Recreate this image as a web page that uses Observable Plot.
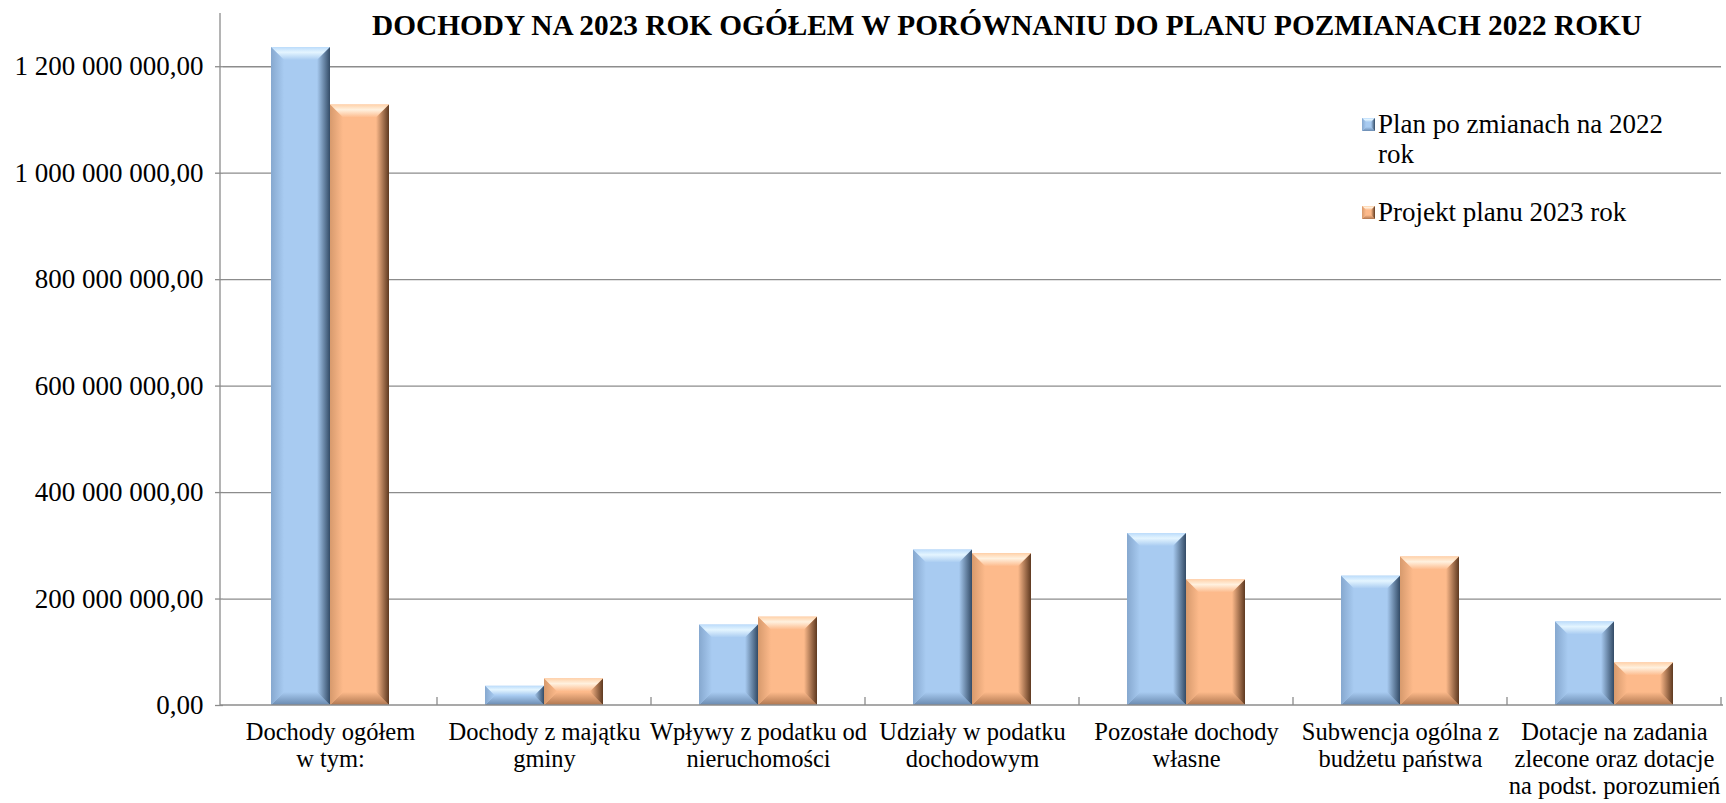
<!DOCTYPE html>
<html>
<head>
<meta charset="utf-8">
<script src="https://cdn.jsdelivr.net/npm/d3@7"></script>
<script src="https://cdn.jsdelivr.net/npm/@observablehq/plot@0.6"></script>
<style>
  html, body { margin: 0; padding: 0; background: #fff; }
  #chart { position: relative; width: 1726px; height: 803px; }
  #chart svg, #chart svg text { font-family: "Liberation Serif", "Times New Roman", serif !important; }
</style>
</head>
<body>
<div id="chart"></div>
<script>
// ---- data ----
const categories = [
  "Dochody ogółem\nw tym:",
  "Dochody z majątku\ngminy",
  "Wpływy z podatku od\nnieruchomości",
  "Udziały w podatku\ndochodowym",
  "Pozostałe dochody\nwłasne",
  "Subwencja ogólna z\nbudżetu państwa",
  "Dotacje na zadania\nzlecone oraz dotacje\nna podst. porozumień"
];
const series = ["Plan po zmianach na 2022 rok", "Projekt planu 2023 rok"];
const legendLines = [["Plan po zmianach na 2022", "rok"], ["Projekt planu 2023 rok"]];
const plan2022 = [1236e6, 36e6, 151e6, 292e6, 323e6, 243e6, 157e6];
const projekt2023 = [1128e6, 50e6, 166e6, 285e6, 236e6, 279e6, 80e6];
const yTicks = [0, 2e8, 4e8, 6e8, 8e8, 1e9, 1.2e9];
const title = "DOCHODY NA 2023 ROK OGÓŁEM W PORÓWNANIU DO PLANU POZMIANACH 2022 ROKU";
const colors = ["#a8cbf1", "#fdba8b"];

const data = categories.flatMap((c, i) => [
  {cat: c, series: series[0], value: plan2022[i]},
  {cat: c, series: series[1], value: projekt2023[i]}
]);

const locale = d3.formatLocale({decimal: ",", thousands: " ", grouping: [3], currency: ["", ""]});
const fmt = locale.format(",.2f");
const FONT = "Liberation Serif";

const plot = Plot.plot({
  width: 1726,
  height: 803,
  marginLeft: 220,
  marginRight: 3,
  marginTop: 13,
  marginBottom: 98,
  style: {fontFamily: FONT, background: "transparent", overflow: "visible", color: "#000"},
  fx: {domain: categories, padding: 0, axis: null, label: null},
  x: {domain: series, paddingInner: 0, paddingOuter: 0.8, axis: null},
  y: {domain: [0, 1.3e9], axis: null, label: null},
  color: {domain: series, range: colors},
  marks: [
    Plot.gridY(yTicks.slice(1), {stroke: "#8c8c8c", strokeOpacity: 1, strokeWidth: 1.3}),
    Plot.barY(data, {fx: "cat", x: "series", y: "value", fill: "series"}),
    Plot.axisY(yTicks, {tickSize: 8, tickPadding: 12, tickFormat: fmt, fontSize: 27, fontFamily: FONT, stroke: "#8c8c8c", strokeWidth: 1.3}),
    Plot.text(categories, {fx: d => d, text: d => d, frameAnchor: "bottom", lineAnchor: "top", dy: 15, fontSize: 24.5, fontFamily: FONT, lineHeight: 1.1, fill: "#000"})
  ]
});

document.getElementById("chart").appendChild(plot);

// ---- bevel styling of bars ----
const svg = d3.select(plot);
const defs = svg.insert("defs", ":first-child");
const pal = {
  [colors[0]]: {base: colors[0], top0: "#bcdcfb", top1: "#e4f5ff", left: "#86a8cf", right: "#334b66", bottom: "#6a8ab0", key: "b"},
  [colors[1]]: {base: colors[1], top0: "#ffd2aa", top1: "#fff1df", left: "#d79a6d", right: "#5e3920", bottom: "#b07750", key: "o"}
};
function grad(id, x2, y2, stops) {
  const g = defs.append("linearGradient").attr("id", id)
    .attr("x1", 0).attr("y1", 0).attr("x2", x2).attr("y2", y2);
  stops.forEach(([o, c]) => g.append("stop").attr("offset", o).attr("stop-color", c));
}
Object.values(pal).forEach(p => {
  grad(p.key + "top", 0, 1, [[0, p.top0], [0.4, p.top1], [1, p.base]]);
  grad(p.key + "right", 1, 0, [[0, p.base], [1, p.right]]);
  grad(p.key + "left", 1, 0, [[0, p.left], [1, p.base]]);
  grad(p.key + "bottom", 0, 1, [[0, p.base], [1, p.bottom]]);
});
function bevel(parent, x, y, w, h, p, bs) {
  const b = Math.min(bs, h / 2, w / 2);
  const g = parent.append("g");
  const poly = (pts, fill) => g.append("polygon").attr("points", pts.map(q => q.join(",")).join(" ")).attr("fill", fill);
  poly([[x, y], [x + w, y], [x + w - b, y + b], [x + b, y + b]], `url(#${p.key}top)`);
  poly([[x, y + h], [x + b, y + h - b], [x + w - b, y + h - b], [x + w, y + h]], `url(#${p.key}bottom)`);
  poly([[x, y], [x + b, y + b], [x + b, y + h - b], [x, y + h]], `url(#${p.key}left)`);
  poly([[x + w, y], [x + w, y + h], [x + w - b, y + h - b], [x + w - b, y + b]], `url(#${p.key}right)`);
}
plot.querySelectorAll('g[aria-label="bar"] rect').forEach(r => {
  const fill = r.getAttribute("fill");
  const p = pal[fill] || pal[colors[0]];
  const x = +r.getAttribute("x"), y = +r.getAttribute("y"), w = +r.getAttribute("width"), h = +r.getAttribute("height");
  bevel(d3.select(r.parentNode), x, y, w, h, p, 13);
});

// ---- axis lines & category ticks from the scales ----
const fx = plot.scale("fx"), ys = plot.scale("y");
const y0 = ys.apply(0), yTop = ys.apply(ys.domain[1]);
const left = fx.range[0], right = fx.range[1];
const axes = svg.append("g").attr("stroke", "#8c8c8c").attr("stroke-width", 1.3);
axes.append("line").attr("x1", left).attr("x2", left).attr("y1", yTop).attr("y2", y0);
axes.append("line").attr("x1", left).attr("x2", right).attr("y1", y0).attr("y2", y0);
categories.forEach(c => {
  const xb = fx.apply(c) + fx.bandwidth;
  axes.append("line").attr("x1", xb).attr("x2", xb).attr("y1", y0).attr("y2", y0 - 8);
});

// ---- title ----
svg.append("text")
  .attr("x", 1007).attr("y", 35)
  .attr("text-anchor", "middle")
  .attr("font-family", FONT).attr("font-weight", "bold").attr("font-size", 29.3)
  .attr("fill", "#000")
  .text(title);

// ---- legend ----
const lg = svg.append("g").attr("font-family", FONT).attr("font-size", 27).attr("fill", "#000").attr("text-anchor", "start");
const legendBase = [133, 221];
legendLines.forEach((lines, i) => {
  const p = pal[colors[i]];
  const by = legendBase[i];
  lg.append("rect").attr("x", 1362).attr("y", by - 15).attr("width", 13).attr("height", 13).attr("fill", p.base);
  bevel(lg, 1362, by - 15, 13, 13, p, 4);
  lines.forEach((t, j) => {
    lg.append("text").attr("x", 1378).attr("y", by + j * 30).attr("text-anchor", "start").text(t);
  });
});
</script>
</body>
</html>
